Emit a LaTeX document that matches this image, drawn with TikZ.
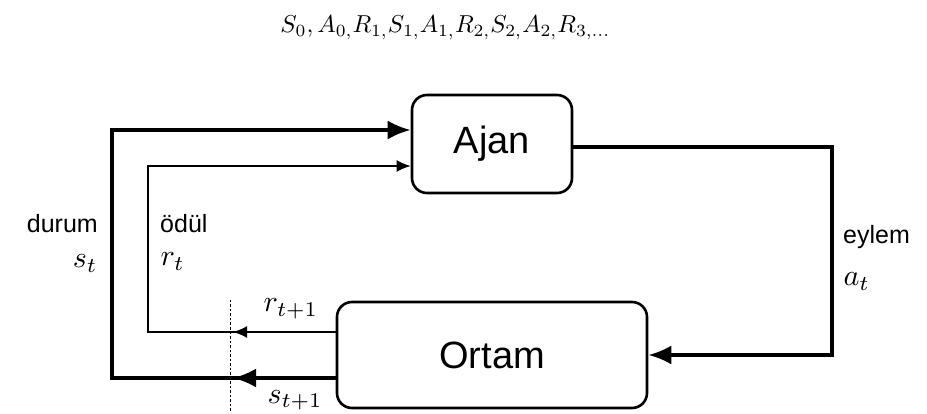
\documentclass[tikz,border=0pt]{standalone}
\usepackage[no-math]{fontspec}
\setmainfont{Liberation Sans}
\usetikzlibrary{arrows.meta,calc}
\begin{document}
\begin{tikzpicture}[x=1pt,y=-1pt,
  block/.style={draw,line width=2.6pt,rounded corners=15pt,fill=white,
    font=\fontsize{38}{40}\selectfont},
  bigline/.style={line width=3.4pt},
  smallline/.style={line width=1.8pt},
  bigtip/.style={-{Latex[length=23pt,width=19pt]}},
  smalltip/.style={-{Latex[length=14pt,width=12pt]}},
  lbl/.style={font=\fontsize{25}{27}\selectfont,inner sep=0pt},
  mlbl/.style={scale=3.0,inner sep=0pt},
  sep/.style={line width=1pt,dash pattern=on 2.5pt off 2pt}]
  \useasboundingbox (0,0) rectangle (927,414);

  % sequence of states, actions and rewards
  \node[scale=2.45,inner sep=0pt,anchor=base west] (seq) at (280,33)
    {$S_0, A_{0,}R_{1,}S_{1,}A_{1,}R_{2,}S_{2,}A_{2,}R_{3,\dots}$};

  % agent and environment
  \node[block,minimum width=160pt,minimum height=98pt] (ajan) at (492,144) {Ajan};
  \node[block,minimum width=310pt,minimum height=106pt] (ortam) at (492,355) {Ortam};

  % routing points
  \coordinate (acorner) at (832,147);
  \coordinate (aend) at (832,355);
  \coordinate (sout) at ($(ortam.west)+(0,23)$);
  \coordinate (rout) at ($(ortam.west)+(0,-23)$);
  \coordinate (sleft) at (112,378);
  \coordinate (stop) at (112,130);
  \coordinate (rleft) at (148,332);
  \coordinate (rtop) at (148,166);
  \coordinate (sin) at ($(ajan.west)+(0,-14)$);
  \coordinate (rin) at ($(ajan.west)+(0,22)$);
  \coordinate (stip) at (233,378);
  \coordinate (rtip) at (233,332);
  \coordinate (septop) at (230,300);
  \coordinate (sepbot) at (230,412);

  % action
  \draw[bigline,bigtip] (ajan.east |- acorner) -- (acorner) -- (aend) -- (ortam.east);
  % state feedback
  \draw[bigline,bigtip] (sout) -- (sleft) -- (stop) -- (sin);
  \draw[bigline,bigtip] (sout) -- (stip);
  % reward feedback
  \draw[smallline,smalltip] (rout) -- (rleft) -- (rtop) -- (rin);
  \draw[smallline,smalltip] (rout) -- (rtip);
  % time step boundary
  \draw[sep] (septop) -- (sepbot);

  % labels
  \node[lbl,anchor=base east] (durum) at (98,233) {durum};
  \node[mlbl,anchor=base east] (st) at (98,268) {$s_t$};
  \node[lbl,anchor=base west] (odul) at (160,233) {ödül};
  \node[mlbl,anchor=base west] (rt) at (160,266) {$r_t$};
  \node[lbl,anchor=base west] (eylem) at (843,244) {eylem};
  \node[mlbl,anchor=base west] (at) at (843,286) {$a_t$};
  \node[mlbl,anchor=base west] (rnext) at (263,312) {$r_{t+1}$};
  \node[mlbl,anchor=base west] (snext) at (267,403) {$s_{t+1}$};
\end{tikzpicture}
\end{document}
